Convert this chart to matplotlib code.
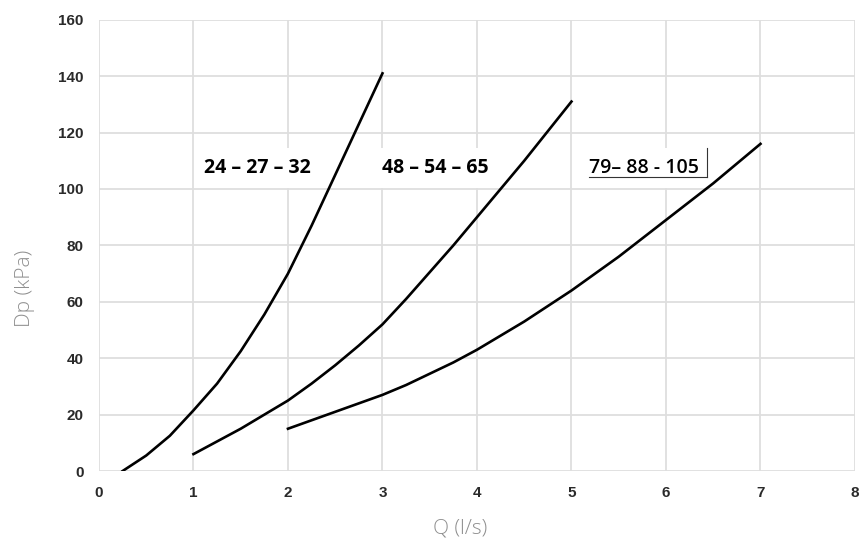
import matplotlib
matplotlib.use('Agg')
import matplotlib.pyplot as plt

# curve data (Q in l/s, Dp in kPa)
q_small = [0.25, 0.5, 0.75, 1.0, 1.25, 1.5, 1.75, 2.0, 2.25, 2.5, 2.75, 3.0]
dp_small = [0, 5.5, 12.5, 21.5, 31, 42.5, 55.5, 70, 87, 105, 123, 141]

q_mid = [1.0, 1.25, 1.5, 1.75, 2.0, 2.25, 2.5, 2.75, 3.0, 3.25, 3.5,
         3.75, 4.0, 4.25, 4.5, 4.75, 5.0]
dp_mid = [6, 10.5, 15, 20, 25, 31, 37.5, 44.5, 52, 61, 70.5,
          80, 90, 100, 110, 120.5, 131]

q_big = [2.0, 2.25, 2.5, 2.75, 3.0, 3.25, 3.5, 3.75, 4.0, 4.25, 4.5,
         4.75, 5.0, 5.25, 5.5, 5.75, 6.0, 6.25, 6.5, 6.75, 7.0]
dp_big = [15, 18, 21, 24, 27, 30.5, 34.5, 38.5, 43, 48, 53,
          58.5, 64, 70, 76, 82.5, 89, 95.5, 102, 109, 116]

labels = ['24 – 27 – 32', '48 – 54 – 65', '79– 88 - 105']
label_x = [1.11, 2.99, 5.19]
label_y = 107.5

x_ticks = list(range(0, 9))
y_ticks = list(range(0, 161, 20))

fig = plt.figure(figsize=(8.68, 5.49), dpi=100)
ax = fig.add_axes([0.114, 0.142, 0.871, 0.822])

ax.set_xlim(0, 8)
ax.set_ylim(0, 160)
ax.set_xticks(x_ticks)
ax.set_yticks(y_ticks)
ax.grid(True, color='#dedede', linewidth=1.3)
ax.set_axisbelow(True)
for s in ax.spines.values():
    s.set_visible(False)
ax.tick_params(length=0, labelsize=11, labelcolor='#2a2a2a', pad=11)
for lab in ax.get_xticklabels() + ax.get_yticklabels():
    lab.set_fontfamily('Liberation Sans')
    lab.set_fontweight('bold')

for q, dp in [(q_small, dp_small), (q_mid, dp_mid), (q_big, dp_big)]:
    ax.plot(q, dp, color='black', linewidth=1.9, solid_joinstyle='round', zorder=5)

# labels sit on white boxes that hide the grid
box = dict(facecolor='white', edgecolor='none', pad=7)
ax.text(label_x[0], label_y, labels[0], fontsize=14, fontweight='bold',
        family='Open Sans', va='center', ha='left', bbox=box)
ax.text(label_x[1], label_y, labels[1], fontsize=14, fontweight='bold',
        family='Open Sans', va='center', ha='left', bbox=box)
ax.text(label_x[2], label_y, labels[2], fontsize=14, fontweight='semibold',
        family='Open Sans', va='center', ha='left', bbox=box)
# underline and bar beside the third label
ax.plot([label_x[2], 6.43], [label_y - 3.4, label_y - 3.4], color='#333333',
        linewidth=0.8, zorder=5)
ax.plot([6.43, 6.43], [label_y - 3.4, label_y + 7], color='#333333',
        linewidth=0.8, zorder=5)

fig.text(0.53, 0.02, 'Q (l/s)', fontsize=15, color='#8f8f8f',
         family='Open Sans', fontweight='light', ha='center', va='bottom')
fig.text(0.029, 0.474, 'Dp (kPa)', fontsize=15, color='#8f8f8f',
         family='Open Sans', fontweight='light', ha='center', va='center',
         rotation=90)

fig.savefig('out.png', dpi=100)
